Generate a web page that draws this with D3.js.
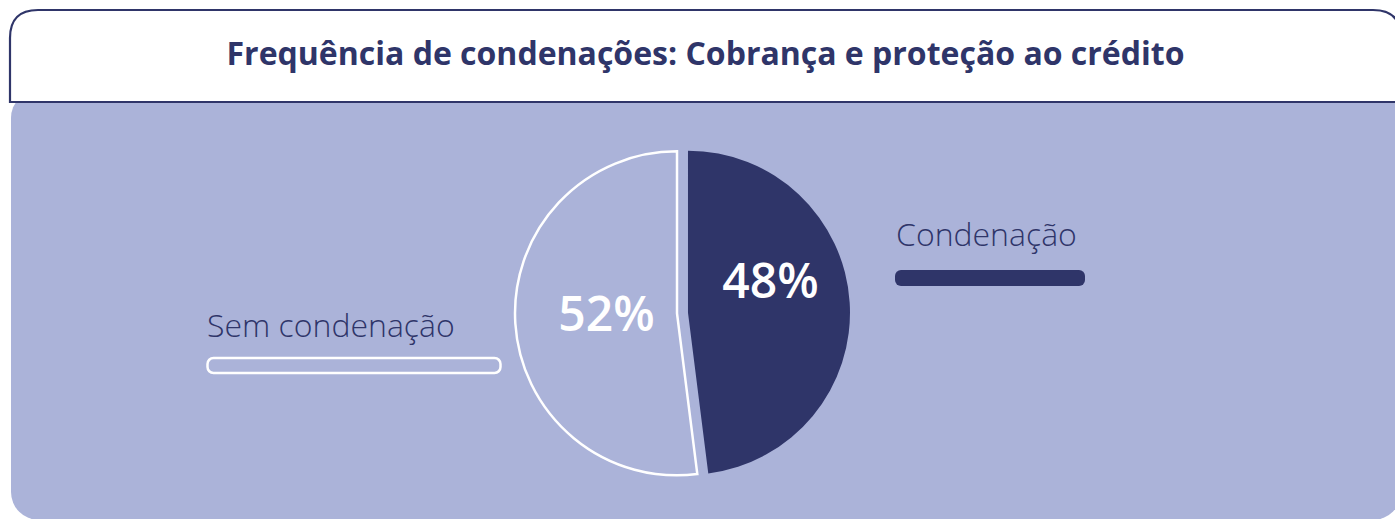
<!DOCTYPE html>
<html>
<head>
<meta charset="utf-8">
<script src="https://cdn.jsdelivr.net/npm/d3@7"></script>
<style>
  body { margin: 0; background: #ffffff; }
  svg { display: block; font-family: "Open Sans", sans-serif; }
  .legend-label { font-family: "Open Sans Light", "Open Sans", sans-serif; font-weight: 300; }
</style>
</head>
<body>
<div id="chart"></div>
<script>
// Data
var categories = ["Condenação", "Sem condenação"];
var values = [48, 52];
var labels = ["48%", "52%"];
var title = "Frequência de condenações: Cobrança e proteção ao crédito";

var navy = "#2f3569";
var lavender = "#abb3d9";

var width = 1395;
var height = 519;

var chart = d3.select('#chart')
              .append('svg')
              .attr('width', width)
              .attr('height', height);

// Background panel
chart.append('rect')
     .attr('x', 11)
     .attr('y', 90)
     .attr('width', 1390)
     .attr('height', 430)
     .attr('rx', 28)
     .attr('fill', lavender);

// Header box
chart.append('path')
     .attr('d', 'M10,102 L10,38 Q10,10 38,10 L1373,10 Q1401,10 1401,38 L1401,102 Z')
     .attr('fill', '#ffffff')
     .attr('stroke', navy)
     .attr('stroke-width', 2.2);

chart.append('text')
     .attr('x', 705.5)
     .attr('y', 65)
     .attr('text-anchor', 'middle')
     .attr('font-size', 32)
     .attr('font-weight', 700)
     .attr('fill', navy)
     .text(title);

// Pie
var cx = 682.5, cy = 313, radius = 162, explode = 5.5;
var pie = d3.pie().sort(null).value(function(d) { return d; });
var arc = d3.arc().innerRadius(0).outerRadius(radius);
var arcs = pie(values);

var g = chart.append('g').attr('transform', 'translate(' + cx + ',' + cy + ')');

g.selectAll('path')
 .data(arcs)
 .enter()
 .append('path')
 .attr('transform', function(d) {
   var mid = (d.startAngle + d.endAngle) / 2;
   return 'translate(' + (Math.sin(mid) * explode) + ',' + (-Math.cos(mid) * explode) + ')';
 })
 .attr('d', arc)
 .attr('fill', function(d, i) { return i === 0 ? navy : lavender; })
 .attr('stroke', function(d, i) { return i === 0 ? 'none' : '#ffffff'; })
 .attr('stroke-width', 2.5)
 .attr('stroke-linejoin', 'miter');

// Percent labels
var labelPos = [[88, -15], [-76, 18]];
g.selectAll('text.pct')
 .data(arcs)
 .enter()
 .append('text')
 .attr('class', 'pct')
 .attr('x', function(d, i) { return labelPos[i][0]; })
 .attr('y', function(d, i) { return labelPos[i][1]; })
 .attr('text-anchor', 'middle')
 .attr('font-size', 48)
 .attr('font-weight', 600)
 .attr('fill', '#ffffff')
 .text(function(d, i) { return labels[i]; });

// Legend
var legend = [
  { x: 896, y: 246, bx: 895, by: 270, bw: 190 },
  { x: 207, y: 337, bx: 207.5, by: 358, bw: 293 }
];
categories.forEach(function(c, i) {
  var l = legend[i];
  chart.append('text')
       .attr('class', 'legend-label')
       .attr('x', l.x)
       .attr('y', l.y)
       .attr('font-size', 32)
       .attr('fill', navy)
       .text(c);
  chart.append('rect')
       .attr('x', l.bx)
       .attr('y', l.by)
       .attr('width', l.bw)
       .attr('height', i === 0 ? 16 : 15)
       .attr('rx', 6)
       .attr('fill', i === 0 ? navy : 'none')
       .attr('stroke', i === 0 ? 'none' : '#ffffff')
       .attr('stroke-width', 2.5);
});
</script>
</body>
</html>
